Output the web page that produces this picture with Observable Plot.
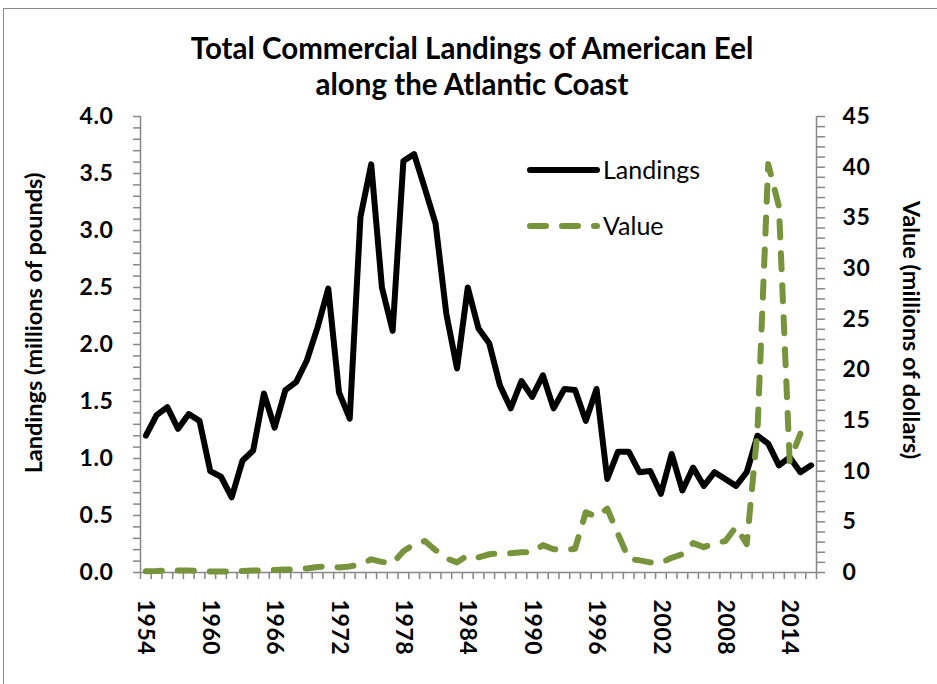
<!DOCTYPE html>
<html>
<head>
<meta charset="utf-8">
<script src="https://cdn.jsdelivr.net/npm/d3@7"></script>
<script src="https://cdn.jsdelivr.net/npm/@observablehq/plot@0.6"></script>
<style>
  body { margin: 0; background: #fff; }
  #wrap { position: relative; width: 937px; height: 684px; overflow: hidden; font-family: Lato, "Open Sans", sans-serif; color: #000; }
  #border { position: absolute; left: 3px; top: 8px; width: 960px; height: 720px; border: 1.5px solid #8a8a8a; box-sizing: border-box; }
  #title { position: absolute; left: 0; top: 30px; width: 944px; text-align: center; font-weight: bold; font-size: 29.5px; line-height: 36px; }
  .ytitle { position: absolute; font-weight: bold; font-size: 23.5px; white-space: nowrap; transform-origin: center center; }
  #chart { position: absolute; left: 0; top: 0; }
  #legend { position: absolute; left: 0; top: 0; }
</style>
</head>
<body>
<div id="wrap">
  <div id="border"></div>
  <div id="chart"></div>
  <div id="title">Total Commercial Landings of American Eel<br>along the Atlantic Coast</div>
  <div class="ytitle" id="ylab">Landings (millions of pounds)</div>
  <div class="ytitle" id="ylab2">Value (millions of dollars)</div>
  <svg id="legend" width="937" height="684"></svg>
</div>
<script>
// ---- data ----
const landingYears = d3.range(1954, 2017);
const landings = [
  1.20, 1.38, 1.45, 1.26, 1.39, 1.33, 0.89, 0.84, 0.66, 0.98,
  1.07, 1.57, 1.27, 1.60, 1.67, 1.86, 2.15, 2.49, 1.58, 1.35,
  3.12, 3.58, 2.50, 2.12, 3.61, 3.67, 3.37, 3.06, 2.27, 1.79,
  2.50, 2.14, 2.01, 1.64, 1.44, 1.68, 1.54, 1.73, 1.44, 1.61,
  1.60, 1.33, 1.61, 0.82, 1.06, 1.06, 0.88, 0.89, 0.69, 1.04,
  0.72, 0.92, 0.76, 0.88, 0.82, 0.76, 0.88, 1.20, 1.13, 0.94,
  1.01, 0.88, 0.94
];
const valueYears = d3.range(1954, 2016);
const values = [
  0.13, 0.15, 0.2, 0.2, 0.2, 0.15, 0.1, 0.1, 0.1, 0.15,
  0.2, 0.2, 0.25, 0.3, 0.3, 0.4, 0.55, 0.6, 0.5, 0.6,
  0.8, 1.3, 1.05, 0.9, 2.1, 2.8, 3.1, 2.2, 1.4, 1.0,
  1.7, 1.5, 1.8, 1.9, 1.9, 2.0, 2.0, 2.7, 2.3, 2.2,
  2.35, 5.95, 5.5, 6.3, 3.8, 1.35, 1.2, 1.0, 0.95, 1.45,
  1.8, 2.9, 2.5, 2.9, 3.1, 4.5, 2.8, 14.0, 40.3, 36.1,
  11.0, 13.7
];
const xLabelYears = [1954, 1960, 1966, 1972, 1978, 1984, 1990, 1996, 2002, 2008, 2014];
const leftTicks = [0, 0.5, 1, 1.5, 2, 2.5, 3, 3.5, 4];
const rightTicks = [0, 5, 10, 15, 20, 25, 30, 35, 40, 45];
const seriesNames = ["Landings", "Value"];

const LMAX = 4, VMAX = 45;
const toL = v => v * LMAX / VMAX;
const x0 = landingYears[0] - 0.5, x1 = landingYears[landingYears.length - 1] + 0.5;

const landData = landingYears.map((y, i) => ({year: y, v: landings[i]}));
const valData = valueYears.map((y, i) => ({year: y, v: toL(values[i])}));

const AX = "#868686";
const GREEN = "#77933C";
const FONT = "Lato, 'Open Sans', sans-serif";

const plot = Plot.plot({
  width: 937, height: 684,
  marginLeft: 140, marginRight: 121, marginTop: 116, marginBottom: 112,
  x: {domain: [x0, x1]},
  y: {domain: [0, LMAX]},
  style: {fontFamily: FONT, fontSize: "23px", fontWeight: "bold", color: "#000", background: "transparent", overflow: "visible", letterSpacing: "0.6px"},
  marks: [
    // category boundary ticks on x
    Plot.axisX(d3.range(x0, x1 + 0.01, 1), {tickSize: 7, tickFormat: () => "", stroke: AX, strokeWidth: 1.5, label: null}),
    Plot.axisX(xLabelYears, {tickSize: 0, tickRotate: 90, tickPadding: 27, tickFormat: d => String(d), fill: "#000", fontSize: 23, fontWeight: "bold", label: null}),
    // left axis
    Plot.axisY(d3.range(0, 41).map(i => i / 10), {anchor: "left", tickSize: 7, tickFormat: () => "", stroke: AX, strokeWidth: 1.5, label: null}),
    Plot.axisY(leftTicks, {anchor: "left", tickSize: 0, tickPadding: 27, tickFormat: d3.format(".1f"), fill: "#000", fontSize: 23, fontWeight: "bold", label: null}),
    // right axis (value, secondary)
    Plot.axisY(d3.range(0, VMAX + 1).map(toL), {anchor: "right", tickSize: 8, tickFormat: () => "", stroke: AX, strokeWidth: 1.5, label: null}),
    Plot.axisY(rightTicks.map(toL), {anchor: "right", tickSize: 0, tickPadding: 26, tickFormat: d => String(Math.round(d * VMAX / LMAX)), fill: "#000", fontSize: 23, fontWeight: "bold", label: null}),
    // axis lines
    Plot.ruleX([x0], {stroke: AX, strokeWidth: 1.5}),
    Plot.ruleX([x1], {stroke: AX, strokeWidth: 1.5}),
    Plot.ruleY([0], {stroke: AX, strokeWidth: 1.5}),
    // series
    Plot.lineY(landData, {x: "year", y: "v", stroke: "#000", strokeWidth: 6, strokeLinejoin: "round", strokeLinecap: "round"}),
    Plot.lineY(valData, {x: "year", y: "v", stroke: GREEN, strokeWidth: 6, strokeDasharray: "16,16", strokeLinecap: "round", strokeLinejoin: "round"})
  ]
});
document.getElementById("chart").appendChild(plot);

// axis titles
function placeTitle(id, cx, cy, rot) {
  const el = document.getElementById(id);
  const w = el.offsetWidth, h = el.offsetHeight;
  el.style.left = (cx - w / 2) + "px";
  el.style.top = (cy - h / 2) + "px";
  el.style.transform = `rotate(${rot}deg)`;
}
placeTitle("ylab", 33, 323, -90);
placeTitle("ylab2", 912, 330, 90);

// legend
const lg = d3.select("#legend");
const items = [
  {name: seriesNames[0], color: "#000", dash: null, y: 170},
  {name: seriesNames[1], color: GREEN, dash: "16,16", y: 226}
];
items.forEach(it => {
  lg.append("line").attr("x1", 530).attr("x2", 597).attr("y1", it.y).attr("y2", it.y)
    .attr("stroke", it.color).attr("stroke-width", 6).attr("stroke-linecap", "round")
    .attr("stroke-dasharray", it.dash);
  lg.append("text").attr("x", 603).attr("y", it.y + 8.5).text(it.name)
    .attr("font-family", FONT).attr("font-size", 25).attr("fill", "#000");
});
</script>
</body>
</html>
